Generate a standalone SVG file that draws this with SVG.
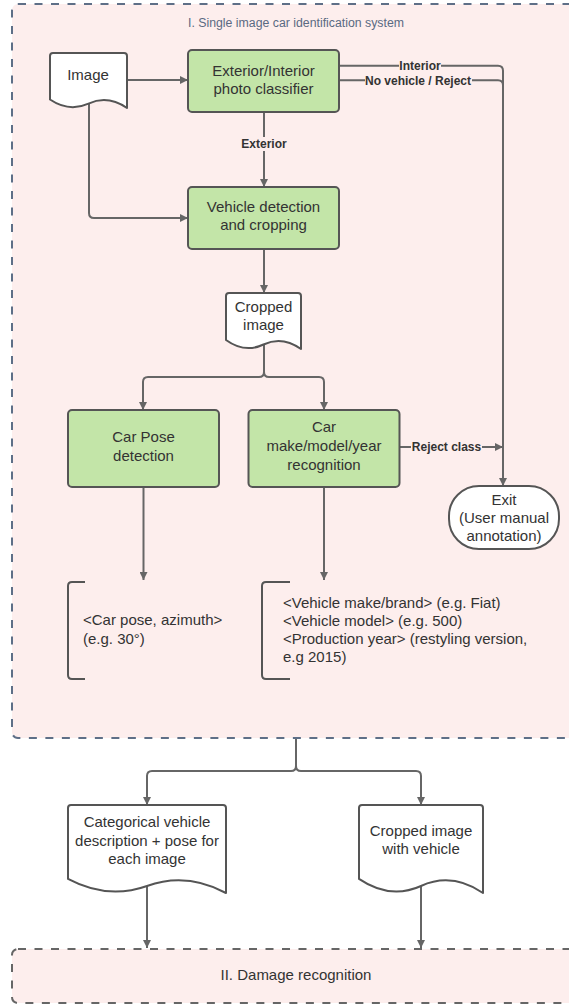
<svg xmlns="http://www.w3.org/2000/svg" width="569" height="1007" viewBox="0 0 569 1007">
<defs>
<style>
.t{font-family:"Liberation Sans",Arial,sans-serif;font-size:15px;fill:#333;text-anchor:middle}
.l{text-anchor:start}
.b{font-family:"Liberation Sans",Arial,sans-serif;font-size:12px;font-weight:bold;fill:#333;text-anchor:middle}
.box{fill:#c3e5a8;stroke:#555;stroke-width:2}
.doc{fill:#fff;stroke:#555;stroke-width:2;stroke-linejoin:round}
.c{fill:none;stroke:#666;stroke-width:2}
.bg{fill:#fdeeed}
</style>
<marker id="a" viewBox="0 0 8 8" refX="8" refY="4" markerWidth="8" markerHeight="8" markerUnits="userSpaceOnUse" orient="auto">
<path d="M0,0 L8,4 L0,8 Z" fill="#666"/>
</marker>
</defs>
<rect width="569" height="1007" fill="#fff"/>
<g id="container1">
<rect x="12" y="4" width="600" height="734" rx="6" fill="#fdeeed" stroke="#5e6f87" stroke-width="2" stroke-dasharray="8 8.5"/>
<text class="t" x="296" y="26.5" style="font-size:12.3px;fill:#5a6a82">I. Single image car identification system</text>
</g>
<g id="container2">
<rect x="12" y="949" width="600" height="54" rx="6" fill="#fdeeed" stroke="#666" stroke-width="2" stroke-dasharray="8 8.5"/>
<text class="t" x="296" y="979.5">II. Damage recognition</text>
</g>
<g id="connectors">
<path class="c" d="M127,80 H188" marker-end="url(#a)"/>
<path class="c" d="M89,103 V213 Q89,218 94,218 H188" marker-end="url(#a)"/>
<path class="c" d="M264,112 V187" marker-end="url(#a)"/>
<path class="c" d="M339,65.7 H498 Q503,65.7 503,70.7 V486" marker-end="url(#a)"/>
<path class="c" d="M339,80.3 H498 Q503,80.3 503,85.3"/>
<path class="c" d="M264,249 V293" marker-end="url(#a)"/>
<path class="c" d="M264,345 V372 Q264,377 259,377 H148 Q143,377 143,382 V410" marker-end="url(#a)"/>
<path class="c" d="M264,372 Q264,377 269,377 H319 Q324,377 324,382 V410" marker-end="url(#a)"/>
<path class="c" d="M400,447 H503" marker-end="url(#a)"/>
<path class="c" d="M143.5,487 V580" marker-end="url(#a)"/>
<path class="c" d="M324,487 V580" marker-end="url(#a)"/>
<path class="c" d="M296,739 V766 Q296,771 291,771 H152 Q147,771 147,776 V805" marker-end="url(#a)"/>
<path class="c" d="M296,766 Q296,771 301,771 H416 Q421,771 421,776 V805" marker-end="url(#a)"/>
<path class="c" d="M147,886 V948" marker-end="url(#a)"/>
<path class="c" d="M421,886 V948" marker-end="url(#a)"/>
<rect class="bg" x="243" y="137" width="42" height="14"/>
<text class="b" x="264" y="148">Exterior</text>
<rect class="bg" x="399" y="59" width="42" height="13"/>
<text class="b" x="420" y="70">Interior</text>
<rect class="bg" x="365" y="74" width="107" height="13"/>
<text class="b" x="418" y="84.5">No vehicle / Reject</text>
<rect class="bg" x="411" y="441" width="71" height="13"/>
<text class="b" x="446.5" y="451">Reject class</text>
</g>
<g id="image">
<path class="doc" d="M50,56 Q50,53 53,53 H124 Q127,53 127,56 V108 Q107.75,94.8 88.5,103.6 Q69.25,112.4 50,99.5 Z"/>
<text class="t" x="88" y="79.5">Image</text>
</g>
<g id="classifier">
<rect class="box" x="188" y="50" width="151" height="62" rx="4"/>
<text class="t" x="263.5" y="76">Exterior/Interior</text>
<text class="t" x="263.5" y="93.5">photo classifier</text>
</g>
<g id="detection">
<rect class="box" x="188" y="187" width="151" height="62" rx="4"/>
<text class="t" x="263.5" y="212">Vehicle detection</text>
<text class="t" x="263.5" y="229.5">and cropping</text>
</g>
<g id="cropped">
<path class="doc" d="M226,296 Q226,293 229,293 H298 Q301,293 301,296 V349 Q282.25,335.6 263.5,344.5 Q244.75,353.5 226,340 Z"/>
<text class="t" x="263.5" y="312">Cropped</text>
<text class="t" x="263.5" y="330">image</text>
</g>
<g id="pose">
<rect class="box" x="68" y="410" width="151" height="77" rx="4"/>
<text class="t" x="143.5" y="442">Car Pose</text>
<text class="t" x="143.5" y="460.5">detection</text>
</g>
<g id="make">
<rect class="box" x="248.5" y="410" width="151" height="77" rx="4"/>
<text class="t" x="324" y="432">Car</text>
<text class="t" x="324" y="451">make/model/year</text>
<text class="t" x="324" y="469.5">recognition</text>
</g>
<g id="exit">
<rect x="449" y="486" width="110" height="63" rx="30" fill="#fff" stroke="#555" stroke-width="2"/>
<text class="t" x="504" y="504.5">Exit</text>
<text class="t" x="504" y="522.5">(User manual</text>
<text class="t" x="504" y="541">annotation)</text>
</g>
<g id="pose-output">
<path d="M85,582 H72 Q68,582 68,586 V675 Q68,679 72,679 H85" fill="none" stroke="#555" stroke-width="2"/>
<text class="t l" x="83" y="625">&lt;Car pose, azimuth&gt;</text>
<text class="t l" x="83" y="644">(e.g. 30°)</text>
</g>
<g id="make-output">
<path d="M290,582 H266 Q262,582 262,586 V675 Q262,679 266,679 H290" fill="none" stroke="#555" stroke-width="2"/>
<text class="t l" x="283" y="607.5">&lt;Vehicle make/brand&gt; (e.g. Fiat)</text>
<text class="t l" x="283" y="625.5">&lt;Vehicle model&gt; (e.g. 500)</text>
<text class="t l" x="283" y="644">&lt;Production year&gt; (restyling version,</text>
<text class="t l" x="283" y="662">e.g 2015)</text>
</g>
<g id="description">
<path class="doc" d="M68,808 Q68,805 71,805 H223 Q226,805 226,808 V893 Q186.5,871.9 147,886 Q107.5,900 68,878.9 Z"/>
<text class="t" x="147" y="827">Categorical vehicle</text>
<text class="t" x="147" y="846">description + pose for</text>
<text class="t" x="147" y="864">each image</text>
</g>
<g id="cropped-vehicle">
<path class="doc" d="M359,808 Q359,805 362,805 H480 Q483,805 483,808 V893 Q452,871.9 421,886 Q390,900 359,878.9 Z"/>
<text class="t" x="421" y="836">Cropped image</text>
<text class="t" x="421" y="853.5">with vehicle</text>
</g>
</svg>
